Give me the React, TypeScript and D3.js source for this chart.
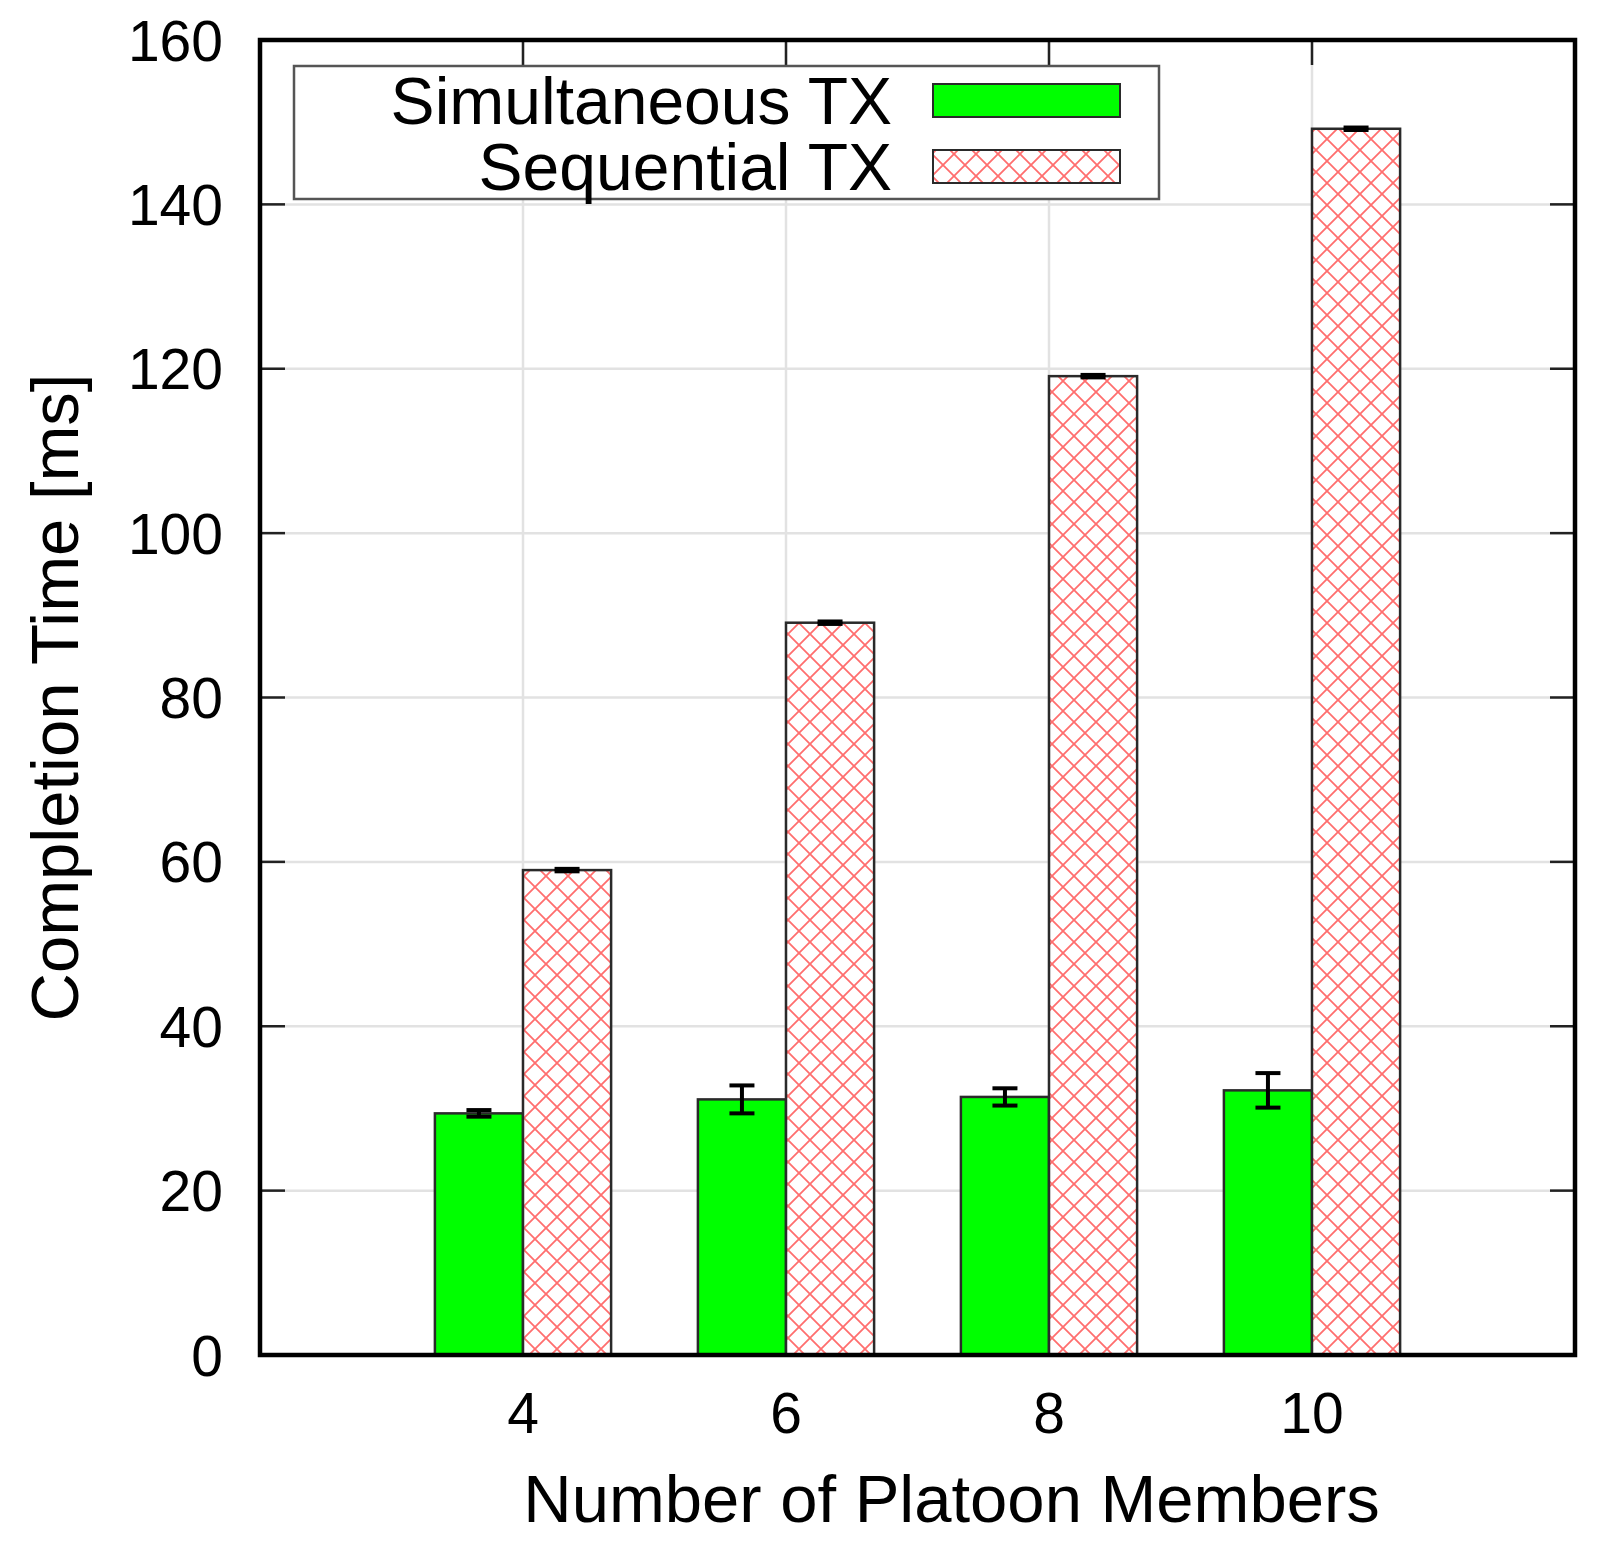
import { useEffect, useRef } from "react";
import * as d3 from "d3";

const W = 1603;
const H = 1544;
const M = { top: 40, right: 28, bottom: 189, left: 260 };

const members = [4, 6, 8, 10];
const simultaneous = [29.4, 31.1, 31.4, 32.2];
const simultaneousErr = [0.4, 1.7, 1.05, 2.1];
const sequential = [59.0, 89.1, 119.1, 149.2];
const sequentialErr = [0.15, 0.15, 0.15, 0.15];
const xTicks = [4, 6, 8, 10];
const yTicks = [0, 20, 40, 60, 80, 100, 120, 140, 160];

const FONT = "'Liberation Sans', Arial, Helvetica, sans-serif";
const BAR_W = 0.67;

export default function App() {
  const svgRef = useRef<SVGSVGElement>(null);

  useEffect(() => {
    if (!svgRef.current) return;
    const root = d3.select(svgRef.current);
    root.selectAll("*").remove();

    const iw = W - M.left - M.right;
    const ih = H - M.top - M.bottom;

    const x = d3.scaleLinear().domain([2, 12]).range([0, iw]);
    const y = d3.scaleLinear().domain([0, 160]).range([ih, 0]);

    // cross hatch pattern
    const defs = root.append("defs");
    const pat = defs
      .append("pattern")
      .attr("id", "hatch")
      .attr("patternUnits", "userSpaceOnUse")
      .attr("width", 22)
      .attr("height", 22);
    pat.append("rect").attr("width", 22).attr("height", 22).attr("fill", "white");
    pat
      .append("path")
      .attr("d", "M0,0L22,22M22,0L0,22M-11,11L11,-11M11,33L33,11M-11,11L11,33M11,-11L33,11")
      .attr("stroke", "#ff3030")
      .attr("stroke-opacity", 0.7)
      .attr("stroke-width", 1.8);

    const svg = root.append("g").attr("transform", `translate(${M.left},${M.top})`);

    // grid
    svg
      .append("g")
      .selectAll("line")
      .data(yTicks.slice(1, -1))
      .join("line")
      .attr("x1", 0)
      .attr("x2", iw)
      .attr("y1", (d) => y(d))
      .attr("y2", (d) => y(d))
      .attr("stroke", "#e2e2e2")
      .attr("stroke-width", 2.5);
    svg
      .append("g")
      .selectAll("line")
      .data(xTicks)
      .join("line")
      .attr("x1", (d) => x(d))
      .attr("x2", (d) => x(d))
      .attr("y1", 0)
      .attr("y2", ih)
      .attr("stroke", "#e2e2e2")
      .attr("stroke-width", 2.5);

    // ticks (inward, mirrored)
    const tick = 25;
    const tk = svg.append("g").attr("stroke", "#222").attr("stroke-width", 2.5);
    yTicks.forEach((d) => {
      tk.append("line").attr("x1", 0).attr("x2", tick).attr("y1", y(d)).attr("y2", y(d));
      tk.append("line").attr("x1", iw - tick).attr("x2", iw).attr("y1", y(d)).attr("y2", y(d));
    });
    xTicks.forEach((d) => {
      tk.append("line").attr("x1", x(d)).attr("x2", x(d)).attr("y1", 0).attr("y2", tick);
      tk.append("line").attr("x1", x(d)).attr("x2", x(d)).attr("y1", ih - tick).attr("y2", ih);
    });

    const bw = x(BAR_W) - x(0);

    // bars
    svg
      .append("g")
      .selectAll("rect")
      .data(members)
      .join("rect")
      .attr("x", (d) => x(d - BAR_W))
      .attr("y", (_, i) => y(simultaneous[i]))
      .attr("width", bw)
      .attr("height", (_, i) => ih - y(simultaneous[i]))
      .attr("fill", "#00ff00")
      .attr("stroke", "#2a2a2a")
      .attr("stroke-width", 2.5);

    svg
      .append("g")
      .selectAll("rect")
      .data(members)
      .join("rect")
      .attr("x", (d) => x(d))
      .attr("y", (_, i) => y(sequential[i]))
      .attr("width", bw)
      .attr("height", (_, i) => ih - y(sequential[i]))
      .attr("fill", "url(#hatch)")
      .attr("stroke", "#2a2a2a")
      .attr("stroke-width", 2.5);

    // error bars
    const cap = 12.5;
    const err = svg.append("g").attr("stroke", "#000").attr("stroke-width", 4);
    const drawErr = (cx: number, v: number, e: number) => {
      err.append("line").attr("x1", cx).attr("x2", cx).attr("y1", y(v - e)).attr("y2", y(v + e));
      err.append("line").attr("x1", cx - cap).attr("x2", cx + cap).attr("y1", y(v - e)).attr("y2", y(v - e));
      err.append("line").attr("x1", cx - cap).attr("x2", cx + cap).attr("y1", y(v + e)).attr("y2", y(v + e));
    };
    members.forEach((m, i) => {
      drawErr(x(m - BAR_W / 2), simultaneous[i], simultaneousErr[i]);
      drawErr(x(m + BAR_W / 2), sequential[i], sequentialErr[i]);
    });

    // frame
    svg
      .append("rect")
      .attr("width", iw)
      .attr("height", ih)
      .attr("fill", "none")
      .attr("stroke", "#000")
      .attr("stroke-width", 4.5);

    // tick labels
    svg
      .append("g")
      .selectAll("text")
      .data(yTicks)
      .join("text")
      .attr("x", -37)
      .attr("y", (d) => y(d))
      .attr("dy", "0.36em")
      .attr("text-anchor", "end")
      .attr("font-family", FONT)
      .attr("font-size", 57)
      .text((d) => d);

    svg
      .append("g")
      .selectAll("text")
      .data(xTicks)
      .join("text")
      .attr("x", (d) => x(d))
      .attr("y", ih + 78)
      .attr("text-anchor", "middle")
      .attr("font-family", FONT)
      .attr("font-size", 57)
      .text((d) => d);

    // axis titles
    svg
      .append("text")
      .attr("x", iw / 2 + 34)
      .attr("y", ih + 167)
      .attr("text-anchor", "middle")
      .attr("font-family", FONT)
      .attr("font-size", 67)
      .text("Number of Platoon Members");

    svg
      .append("text")
      .attr("transform", "rotate(-90)")
      .attr("x", -ih / 2)
      .attr("y", -182)
      .attr("text-anchor", "middle")
      .attr("font-family", FONT)
      .attr("font-size", 67)
      .text("Completion Time [ms]");

    // legend
    const lg = svg.append("g").attr("transform", `translate(${294 - M.left},${66 - M.top})`);
    lg.append("rect")
      .attr("width", 865)
      .attr("height", 133)
      .attr("fill", "white")
      .attr("stroke", "#555")
      .attr("stroke-width", 2.5);
    const entries = [
      { label: "Simultaneous TX", fill: "#00ff00", yy: 18 },
      { label: "Sequential TX", fill: "url(#hatch)", yy: 84 },
    ];
    entries.forEach((e) => {
      lg.append("text")
        .attr("x", 598)
        .attr("y", e.yy + 40)
        .attr("text-anchor", "end")
        .attr("font-family", FONT)
        .attr("font-size", 66)
        .text(e.label);
      lg.append("rect")
        .attr("x", 639)
        .attr("y", e.yy)
        .attr("width", 187)
        .attr("height", 33)
        .attr("fill", e.fill)
        .attr("stroke", "#2a2a2a")
        .attr("stroke-width", 2);
    });
  }, []);

  return (
    <svg
      ref={svgRef}
      width={W}
      height={H}
      viewBox={`0 0 ${W} ${H}`}
      style={{ position: "absolute", left: 0, top: 0, background: "white" }}
    />
  );
}
